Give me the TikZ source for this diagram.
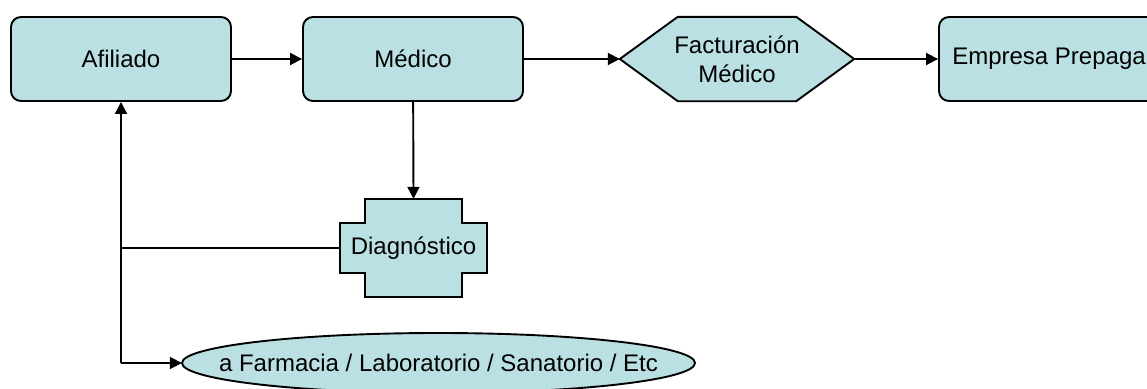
\documentclass[tikz,border=0pt]{standalone}
\usepackage{fontspec}
\setmainfont{Liberation Sans}
\usetikzlibrary{arrows.meta}
\definecolor{boxfill}{RGB}{187,224,227}
\definecolor{edge}{RGB}{0,0,0}
\tikzset{
  every node/.style={font=\fontsize{24}{29}\selectfont, inner sep=0pt},
  procbox/.style={draw=edge, fill=boxfill, line width=1.9pt, rounded corners=10pt,
    minimum width=220pt, minimum height=84pt},
  shapeholder/.style={minimum width=#1, minimum height=84pt},
  outline/.style={draw=edge, fill=boxfill, line width=1.9pt},
  link/.style={draw=edge, line width=1.9pt},
  arrowlink/.style={link, -{Triangle[length=12pt,width=12pt]}},
}
\begin{document}
\begin{tikzpicture}[x=1pt,y=-1pt]
\useasboundingbox (0,0) rectangle (1147,388);
\clip (0,0) rectangle (1147,388);

% main row
\node[procbox] (afil) at (121,59) {Afiliado};
\node[procbox] (med) at (413,59) {Médico};
\node[procbox] (emp) at (1049,59) {Empresa Prepaga};

% hexagon for billing
\node[shapeholder=234pt] (fact) at (737,59) {};
\path[outline] (fact.west) -- ([xshift=58pt]fact.north west) -- ([xshift=-58pt]fact.north east)
  -- (fact.east) -- ([xshift=-58pt]fact.south east) -- ([xshift=58pt]fact.south west) -- cycle;
\node[align=center] at (fact.center) {Facturación\\Médico};

% cross-shaped diagnosis block
\node[minimum width=147pt, minimum height=98pt] (diag) at (413.5,248) {};
\path[outline] ([xshift=25pt]diag.north west) -- ([xshift=-25pt]diag.north east)
  -- ([xshift=-25pt,yshift=-24pt]diag.north east) -- ([yshift=-24pt]diag.north east)
  -- ([yshift=24pt]diag.south east) -- ([xshift=-25pt,yshift=24pt]diag.south east)
  -- ([xshift=-25pt]diag.south east) -- ([xshift=25pt]diag.south west)
  -- ([xshift=25pt,yshift=24pt]diag.south west) -- ([yshift=24pt]diag.south west)
  -- ([yshift=-24pt]diag.north west) -- ([xshift=25pt,yshift=-24pt]diag.north west) -- cycle;
\node at (diag.center) {Diagnóstico};

% referral ellipse
\node[minimum width=513pt, minimum height=60pt] (ref) at (438.5,363) {};
\path[outline] (ref.center) ellipse [x radius=256.5pt, y radius=30pt];
\node at (ref.center) {a Farmacia / Laboratorio / Sanatorio / Etc};

% connectors
\draw[arrowlink] (afil) -- (med);
\draw[arrowlink] (med) -- (fact.west);
\draw[arrowlink] (fact.east) -- (emp);
\draw[arrowlink] (med) -- (diag.north);

\coordinate (corner) at (afil.south |- ref.west);
\draw[link] (diag.west) -- (diag.west -| afil.south);
\draw[arrowlink] (corner) -- (afil.south);
\draw[arrowlink] (corner) -- (ref.west);
\end{tikzpicture}
\end{document}
